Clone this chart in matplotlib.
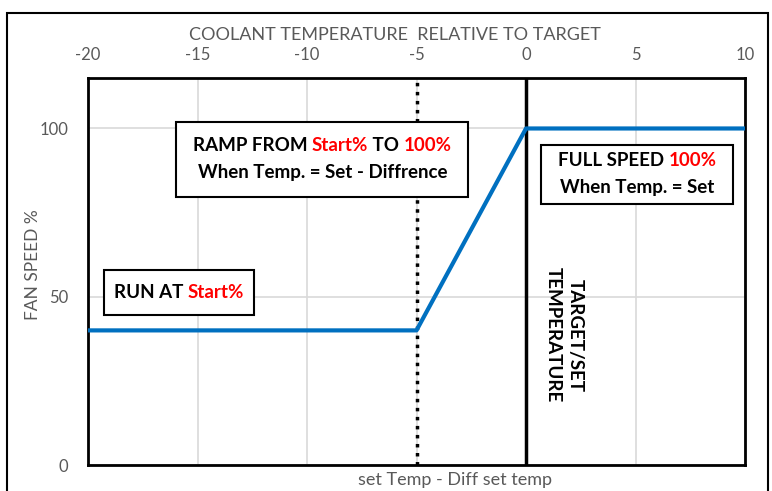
import matplotlib
matplotlib.use("Agg")
import matplotlib.pyplot as plt
from matplotlib.patches import Rectangle

# data
temp = [-20, -5, 0, 10]
fan_speed = [40, 40, 100, 100]
x_ticks = [-20, -15, -10, -5, 0, 5, 10]
y_ticks = [0, 50, 100]
set_line = 0
diff_line = -5

BLUE = "#0070C0"
GREY = "#595959"
RED = "#FF0000"
plt.rcParams['font.family'] = ['Lato', 'DejaVu Sans']
plt.rcParams['axes.unicode_minus'] = False

fig = plt.figure(figsize=(7.72, 4.91), dpi=100)
ax = fig.add_axes([88 / 772, 26 / 491, 657 / 772, 387 / 491])

ax.plot(temp, fan_speed, color=BLUE, lw=3, solid_capstyle='butt', zorder=4)
ax.axvline(set_line, color='black', lw=2.5, zorder=3)
ax.axvline(diff_line, color='black', lw=2.5, ls=(0, (1, 1.6)), zorder=3)

ax.set_xlim(-20, 10)
ax.set_ylim(0, 115)
ax.set_xticks(x_ticks)
ax.set_yticks(y_ticks)
ax.grid(True, color='#d9d9d9', lw=1.2, zorder=0)
ax.set_axisbelow(True)
ax.xaxis.tick_top()
ax.tick_params(length=0, labelsize=12, labelcolor=GREY)
ax.tick_params(axis='x', pad=11)
ax.tick_params(axis='y', pad=14)
for s in ax.spines.values():
    s.set_linewidth(2)
    s.set_color('black')

# axis titles placed where the reference has them
fig.text(395 / 772, 1 - 35 / 491, "COOLANT TEMPERATURE  RELATIVE TO TARGET", color=GREY,
         fontsize=13, ha='center', va='center')
fig.text(33 / 772, 1 - 265 / 491, "FAN SPEED %", color=GREY, fontsize=12.5, rotation=90,
         ha='center', va='center')
fig.text(455 / 772, 1 - 480 / 491, "set Temp - Diff set temp", color=GREY, fontsize=13,
         ha='center', va='center')

# outer frame
fig.patches.append(Rectangle((7 / 772, -0.05), 761 / 772, 1.05 - 13 / 491, transform=fig.transFigure,
                             fill=False, ec='black', lw=1.5))

renderer = fig.canvas.get_renderer()


def colored_line(cx, cy, parts, size=13.5):
    # parts: list of (text, color); centered at data (cx, cy)
    texts = [ax.text(0, 0, s, color=c, fontsize=size, fontweight='bold', ha='left', va='center',
                     zorder=6) for s, c in parts]
    widths = [t.get_window_extent(renderer).width for t in texts]
    px, py = ax.transData.transform((cx, cy))
    x0 = px - sum(widths) / 2
    inv = ax.transData.inverted()
    for t, w in zip(texts, widths):
        t.set_position(inv.transform((x0, py)))
        x0 += w


def box(x0, y0, x1, y1):
    ax.add_patch(Rectangle((x0, y0), x1 - x0, y1 - y0, fc='white', ec='black', lw=1.5, zorder=5))


box(-15.96, 79.5, -2.66, 101.8)
colored_line(-9.3, 94.8, [("RAMP FROM ", 'black'), ("Start%", RED), (" TO ", 'black'), ("100%", RED)])
colored_line(-9.3, 86.8, [("When Temp. = Set - Diffrence", 'black')])

box(-19.27, 44.5, -12.43, 57.9)
colored_line(-15.85, 51.2, [("RUN AT ", 'black'), ("Start%", RED)])

box(0.69, 77.7, 9.45, 95.0)
colored_line(5.07, 90.4, [("FULL SPEED ", 'black'), ("100%", RED)])
colored_line(5.07, 82.5, [("When Temp. = Set", 'black')])

ax.text(1.75, 38.6, "TARGET/SET\nTEMPERATURE", rotation=-90, fontsize=13.5, fontweight='bold',
        ha='center', va='center', multialignment='center', linespacing=1.35, zorder=6)

fig.savefig("out.png", dpi=100)
